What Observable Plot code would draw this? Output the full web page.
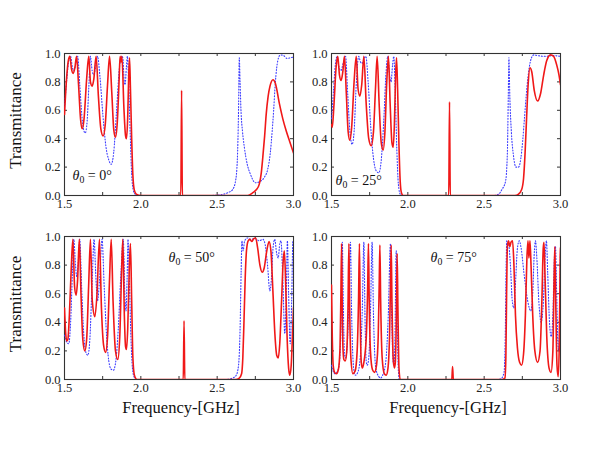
<!DOCTYPE html>
<html><head><meta charset="utf-8">
<script src="https://cdn.jsdelivr.net/npm/d3@7"></script>
<script src="https://cdn.jsdelivr.net/npm/@observablehq/plot@0.6"></script>
<style>
body{margin:0;background:#fff}
#c{position:relative;width:600px;height:464px;background:#fff;overflow:hidden}
#c svg{position:absolute}
</style></head><body><div id="c"></div>
<script>
const xTicks=[1.5,2.0,2.5,3.0];
const yTicks=[0,0.2,0.4,0.6,0.8,1.0];
const minorX=[1.75,2.0,2.25,2.5,2.75];
const minorY=[0.2,0.4,0.6,0.8];
const angles=["0","25","50","75"];
const xLabel="Frequency-[GHz]";
const yLabel="Transmittance";

// theta0 = 0
const red0=[[1.500,0.57],[1.512,0.80],[1.525,0.95],[1.535,0.98],[1.546,0.89],[1.557,0.86],[1.568,0.90],[1.579,0.98],[1.592,0.78],[1.605,0.54],[1.616,0.47],[1.628,0.54],[1.645,0.82],[1.659,0.98],[1.670,0.80],[1.681,0.77],[1.692,0.82],[1.707,0.98],[1.722,0.70],[1.738,0.47],[1.753,0.42],[1.767,0.50],[1.782,0.78],[1.795,0.98],[1.810,0.72],[1.823,0.46],[1.834,0.41],[1.846,0.52],[1.858,0.82],[1.864,0.98],[1.870,0.94],[1.876,0.98],[1.889,0.62],[1.900,0.42],[1.906,0.40],[1.914,0.55],[1.921,0.86],[1.926,0.97],[1.932,0.75],[1.940,0.40],[1.948,0.14],[1.957,0.04],[1.970,0.01],[2.000,0.0],[2.262,0.0],[2.267,0.74],[2.272,0.0],[2.700,0.0],[2.734,0.02],[2.756,0.04],[2.776,0.08],[2.789,0.16],[2.799,0.27],[2.811,0.42],[2.821,0.57],[2.834,0.70],[2.846,0.77],[2.866,0.815],[2.881,0.79],[2.908,0.645],[2.930,0.54],[2.952,0.456],[2.975,0.38],[3.000,0.30]];
const blue0=[[1.500,0.62],[1.515,0.82],[1.530,0.96],[1.540,0.98],[1.552,0.90],[1.562,0.88],[1.574,0.93],[1.586,0.98],[1.600,0.78],[1.614,0.56],[1.626,0.46],[1.636,0.44],[1.648,0.52],[1.660,0.78],[1.670,0.98],[1.681,0.88],[1.692,0.85],[1.703,0.90],[1.716,0.98],[1.732,0.84],[1.752,0.56],[1.772,0.34],[1.790,0.25],[1.806,0.22],[1.822,0.30],[1.840,0.58],[1.858,0.88],[1.872,0.98],[1.882,0.97],[1.890,0.82],[1.897,0.78],[1.905,0.90],[1.912,0.98],[1.920,0.80],[1.930,0.45],[1.940,0.15],[1.950,0.04],[1.962,0.01],[2.000,0.0],[2.450,0.0],[2.520,0.005],[2.570,0.02],[2.600,0.04],[2.620,0.10],[2.632,0.25],[2.640,0.60],[2.645,0.97],[2.650,0.80],[2.656,0.60],[2.666,0.45],[2.678,0.34],[2.697,0.22],[2.718,0.15],[2.750,0.09],[2.784,0.10],[2.810,0.13],[2.830,0.18],[2.848,0.30],[2.860,0.45],[2.870,0.60],[2.880,0.78],[2.890,0.90],[2.902,0.97],[2.915,0.99],[2.935,0.985],[2.958,0.965],[2.980,0.97],[3.000,0.975]];

// theta0 = 25
const red25=[[1.500,0.50],[1.505,0.48],[1.515,0.62],[1.530,0.90],[1.541,0.98],[1.552,0.85],[1.563,0.81],[1.574,0.87],[1.585,0.98],[1.597,0.72],[1.609,0.45],[1.620,0.39],[1.632,0.48],[1.648,0.80],[1.662,0.98],[1.674,0.75],[1.686,0.70],[1.698,0.78],[1.712,0.98],[1.727,0.65],[1.744,0.40],[1.760,0.35],[1.775,0.45],[1.788,0.75],[1.799,0.98],[1.812,0.65],[1.826,0.37],[1.838,0.32],[1.850,0.45],[1.862,0.80],[1.873,0.98],[1.884,0.65],[1.896,0.37],[1.904,0.34],[1.912,0.50],[1.920,0.85],[1.926,0.97],[1.933,0.75],[1.942,0.35],[1.950,0.10],[1.958,0.02],[1.970,0.0],[2.268,0.0],[2.273,0.66],[2.278,0.0],[2.700,0.0],[2.725,0.01],[2.745,0.04],[2.758,0.12],[2.768,0.30],[2.778,0.55],[2.788,0.78],[2.800,0.90],[2.812,0.87],[2.828,0.74],[2.850,0.665],[2.870,0.72],[2.890,0.85],[2.910,0.95],[2.935,0.99],[2.955,0.98],[2.975,0.92],[2.990,0.85],[3.000,0.78]];
const blue25=[[1.500,0.54],[1.512,0.72],[1.525,0.92],[1.537,0.98],[1.550,0.90],[1.562,0.88],[1.576,0.93],[1.592,0.98],[1.606,0.72],[1.620,0.46],[1.635,0.36],[1.648,0.45],[1.662,0.78],[1.678,0.98],[1.690,0.94],[1.700,0.93],[1.712,0.96],[1.725,0.98],[1.740,0.80],[1.756,0.50],[1.775,0.26],[1.795,0.17],[1.810,0.16],[1.825,0.24],[1.842,0.52],[1.858,0.88],[1.869,0.98],[1.880,0.85],[1.890,0.80],[1.900,0.92],[1.908,0.98],[1.917,0.75],[1.928,0.32],[1.938,0.08],[1.950,0.01],[1.970,0.0],[2.560,0.0],[2.596,0.01],[2.615,0.04],[2.640,0.10],[2.652,0.30],[2.658,0.70],[2.662,0.97],[2.668,0.70],[2.678,0.45],[2.692,0.28],[2.708,0.20],[2.725,0.20],[2.740,0.26],[2.752,0.38],[2.765,0.56],[2.780,0.76],[2.795,0.90],[2.810,0.97],[2.825,0.99],[2.850,0.985],[2.900,0.98],[2.950,0.985],[3.000,0.98]];

// theta0 = 50
const red50=[[1.500,0.50],[1.508,0.32],[1.515,0.27],[1.522,0.28],[1.532,0.45],[1.545,0.80],[1.555,0.98],[1.566,0.65],[1.576,0.59],[1.586,0.70],[1.597,0.98],[1.608,0.60],[1.620,0.28],[1.633,0.20],[1.645,0.28],[1.658,0.65],[1.670,0.98],[1.682,0.55],[1.699,0.44],[1.713,0.60],[1.729,0.98],[1.742,0.50],[1.756,0.24],[1.769,0.19],[1.782,0.30],[1.795,0.70],[1.806,0.98],[1.818,0.55],[1.834,0.20],[1.849,0.14],[1.862,0.30],[1.874,0.75],[1.882,0.98],[1.892,0.45],[1.900,0.23],[1.906,0.21],[1.914,0.35],[1.925,0.80],[1.932,0.95],[1.940,0.55],[1.948,0.15],[1.958,0.03],[1.975,0.0],[2.278,0.0],[2.283,0.41],[2.288,0.0],[2.620,0.0],[2.645,0.01],[2.660,0.04],[2.668,0.15],[2.676,0.42],[2.684,0.72],[2.692,0.90],[2.703,0.97],[2.714,0.98],[2.726,0.965],[2.740,0.985],[2.752,0.99],[2.765,0.92],[2.780,0.80],[2.795,0.75],[2.808,0.78],[2.825,0.90],[2.840,0.965],[2.852,0.90],[2.865,0.62],[2.878,0.32],[2.890,0.17],[2.900,0.15],[2.910,0.25],[2.922,0.55],[2.932,0.82],[2.940,0.90],[2.948,0.70],[2.958,0.30],[2.968,0.08],[2.976,0.03],[2.985,0.10],[2.993,0.30],[3.000,0.50]];
const blue50=[[1.500,0.31],[1.515,0.26],[1.528,0.25],[1.540,0.40],[1.552,0.75],[1.561,0.98],[1.572,0.80],[1.580,0.72],[1.590,0.82],[1.600,0.98],[1.612,0.65],[1.626,0.32],[1.640,0.19],[1.653,0.17],[1.666,0.28],[1.680,0.65],[1.694,0.98],[1.704,0.75],[1.716,0.55],[1.730,0.70],[1.746,0.98],[1.760,0.65],[1.776,0.30],[1.795,0.10],[1.808,0.07],[1.820,0.065],[1.835,0.12],[1.852,0.35],[1.870,0.75],[1.885,0.98],[1.895,0.60],[1.903,0.48],[1.910,0.70],[1.916,0.98],[1.925,0.70],[1.935,0.30],[1.945,0.08],[1.955,0.02],[1.970,0.0],[2.560,0.0],[2.600,0.01],[2.625,0.03],[2.640,0.10],[2.650,0.35],[2.657,0.75],[2.662,0.97],[2.670,0.90],[2.680,0.97],[2.700,0.99],[2.720,0.98],[2.750,0.985],[2.775,0.97],[2.800,0.98],[2.815,0.94],[2.830,0.80],[2.845,0.62],[2.855,0.70],[2.866,0.92],[2.877,0.98],[2.890,0.88],[2.900,0.85],[2.910,0.95],[2.918,0.97],[2.930,0.70],[2.943,0.32],[2.952,0.55],[2.960,0.97],[2.968,0.60],[2.978,0.25],[2.988,0.55],[2.996,0.97],[3.000,0.93]];

// theta0 = 75
const red75=[[1.500,0.66],[1.505,0.30],[1.511,0.10],[1.520,0.05],[1.532,0.04],[1.545,0.07],[1.555,0.20],[1.561,0.55],[1.566,0.95],[1.570,0.55],[1.575,0.22],[1.581,0.14],[1.590,0.13],[1.600,0.20],[1.608,0.50],[1.614,0.95],[1.619,0.50],[1.627,0.15],[1.640,0.04],[1.655,0.06],[1.668,0.20],[1.677,0.55],[1.683,0.95],[1.688,0.45],[1.695,0.12],[1.702,0.08],[1.712,0.12],[1.728,0.30],[1.737,0.65],[1.742,0.95],[1.747,0.55],[1.755,0.20],[1.768,0.07],[1.782,0.05],[1.795,0.10],[1.806,0.30],[1.813,0.70],[1.817,0.94],[1.822,0.55],[1.832,0.15],[1.846,0.04],[1.858,0.03],[1.870,0.08],[1.880,0.30],[1.887,0.70],[1.891,0.94],[1.896,0.55],[1.904,0.15],[1.912,0.08],[1.918,0.12],[1.925,0.45],[1.930,0.88],[1.935,0.50],[1.942,0.08],[1.950,0.0],[2.288,0.0],[2.293,0.09],[2.298,0.0],[2.620,0.0],[2.636,0.01],[2.642,0.15],[2.647,0.60],[2.652,0.93],[2.660,0.97],[2.668,0.93],[2.676,0.96],[2.686,0.97],[2.695,0.80],[2.705,0.45],[2.718,0.22],[2.732,0.12],[2.745,0.10],[2.758,0.18],[2.770,0.45],[2.780,0.85],[2.787,0.97],[2.793,0.85],[2.800,0.97],[2.807,0.80],[2.818,0.45],[2.832,0.20],[2.850,0.12],[2.866,0.20],[2.878,0.55],[2.887,0.92],[2.892,0.96],[2.898,0.75],[2.910,0.30],[2.925,0.08],[2.938,0.05],[2.950,0.20],[2.958,0.70],[2.963,0.93],[2.968,0.60],[2.977,0.10],[2.985,0.02],[2.993,0.30],[2.998,0.85],[3.000,0.92]];
const blue75=[[1.500,0.10],[1.510,0.06],[1.522,0.04],[1.535,0.05],[1.550,0.10],[1.563,0.40],[1.571,0.96],[1.577,0.55],[1.585,0.18],[1.592,0.15],[1.602,0.22],[1.614,0.55],[1.624,0.96],[1.632,0.45],[1.645,0.08],[1.657,0.03],[1.672,0.05],[1.688,0.15],[1.702,0.50],[1.712,0.96],[1.720,0.40],[1.728,0.12],[1.734,0.10],[1.744,0.15],[1.756,0.50],[1.766,0.96],[1.775,0.45],[1.790,0.08],[1.810,0.02],[1.821,0.01],[1.835,0.03],[1.855,0.12],[1.872,0.45],[1.886,0.95],[1.895,0.40],[1.904,0.12],[1.908,0.10],[1.915,0.25],[1.924,0.90],[1.930,0.50],[1.937,0.08],[1.945,0.0],[2.590,0.0],[2.615,0.01],[2.630,0.05],[2.638,0.30],[2.644,0.80],[2.648,0.97],[2.660,0.95],[2.672,0.80],[2.684,0.55],[2.694,0.50],[2.704,0.65],[2.718,0.92],[2.730,0.97],[2.742,0.92],[2.760,0.75],[2.785,0.55],[2.805,0.48],[2.818,0.60],[2.828,0.88],[2.836,0.97],[2.845,0.85],[2.858,0.55],[2.873,0.40],[2.888,0.55],[2.900,0.88],[2.908,0.97],[2.916,0.75],[2.928,0.40],[2.939,0.30],[2.950,0.45],[2.960,0.85],[2.967,0.93],[2.975,0.60],[2.983,0.25],[2.989,0.20],[2.995,0.55],[3.000,0.88]];

const RED="#f01818", BLUE="#3c3cff", INK="#222";
const FONT='"Liberation Serif","Times New Roman",serif';

function panel(o){
  const W=229, H=o.h;
  const marks=[
    Plot.frame({stroke:"#333",strokeWidth:1.1}),
    Plot.tickX(minorX,{x:d=>d,insetTop:H-3,stroke:"#333"}),
    Plot.tickX(minorX,{x:d=>d,insetBottom:H-3,stroke:"#333"}),
    Plot.tickY(minorY,{y:d=>d,insetRight:W-3,stroke:"#333"}),
    Plot.tickY(minorY,{y:d=>d,insetLeft:W-3,stroke:"#333"}),
    Plot.axisY({ticks:yTicks,tickSize:0,tickPadding:4,tickFormat:d=>d.toFixed(1),label:null,fontSize:12.5,fill:INK}),
    Plot.axisX({ticks:xTicks,tickSize:0,tickPadding:4,tickFormat:d=>d.toFixed(1),label:null,fontSize:12.5,fill:INK}),
    Plot.line(o.blue,{x:d=>d[0],y:d=>d[1],stroke:BLUE,strokeWidth:1.1,strokeDasharray:"1,1.9",curve:"monotone-x",clip:true}),
    Plot.line(o.red,{x:d=>d[0],y:d=>d[1],stroke:RED,strokeWidth:1.6,curve:"monotone-x",clip:true}),
    Plot.text(["θ0\u00a0=\u00a0"+o.angle+"°"],{frameAnchor:o.lab[0],dx:o.lab[1],dy:o.lab[2],textAnchor:"start",lineAnchor:"middle",fontSize:14,fill:"#111"})
  ];
  if(o.yl) marks.push(Plot.text([yLabel],{frameAnchor:"left",dx:-49,dy:-4,rotate:-90,textAnchor:"middle",lineAnchor:"middle",fontSize:17,fill:"#111"}));
  if(o.xl) marks.push(Plot.text([xLabel],{frameAnchor:"bottom",dx:2,dy:28,textAnchor:"middle",lineAnchor:"middle",fontSize:16.5,fill:"#111"}));
  const svg=Plot.plot({
    width:o.ml+W+o.mr, height:o.mt+H+o.mb,
    marginLeft:o.ml, marginRight:o.mr, marginTop:o.mt, marginBottom:o.mb,
    x:{domain:[1.5,3.0]}, y:{domain:[0,1]},
    style:{fontFamily:FONT,fontSize:"12.5px",background:"transparent",overflow:"visible"},
    marks
  });
  d3.select(svg).selectAll("text").filter(function(){return this.textContent.startsWith("θ0");}).each(function(){
    const rest=this.textContent.slice(2);
    const t=d3.select(this); t.text(null);
    t.append("tspan").attr("font-style","italic").text("θ");
    t.append("tspan").attr("font-size","70%").attr("dy","3").text("0");
    t.append("tspan").attr("dy","-3").text(rest);
  });
  svg.style.position="absolute";
  svg.style.left=o.left+"px"; svg.style.top=o.top+"px";
  svg.style.maxWidth="none";
  document.getElementById("c").appendChild(svg);
}

panel({red:red0,blue:blue0,angle:angles[0],left:4,top:45,ml:60,mr:8,mt:8,mb:22,h:142,yl:true,xl:false,lab:["bottom-left",8,-20]});
panel({red:red25,blue:blue25,angle:angles[1],left:301,top:45,ml:30,mr:12,mt:8,mb:22,h:142,yl:false,xl:false,lab:["bottom-left",4,-15]});
panel({red:red50,blue:blue50,angle:angles[2],left:4,top:228,ml:60,mr:8,mt:8,mb:40,h:143,yl:true,xl:true,lab:["top-left",104,21]});
panel({red:red75,blue:blue75,angle:angles[3],left:301,top:228,ml:30,mr:12,mt:8,mb:40,h:143,yl:false,xl:true,lab:["top-left",99,21]});
</script></body></html>
